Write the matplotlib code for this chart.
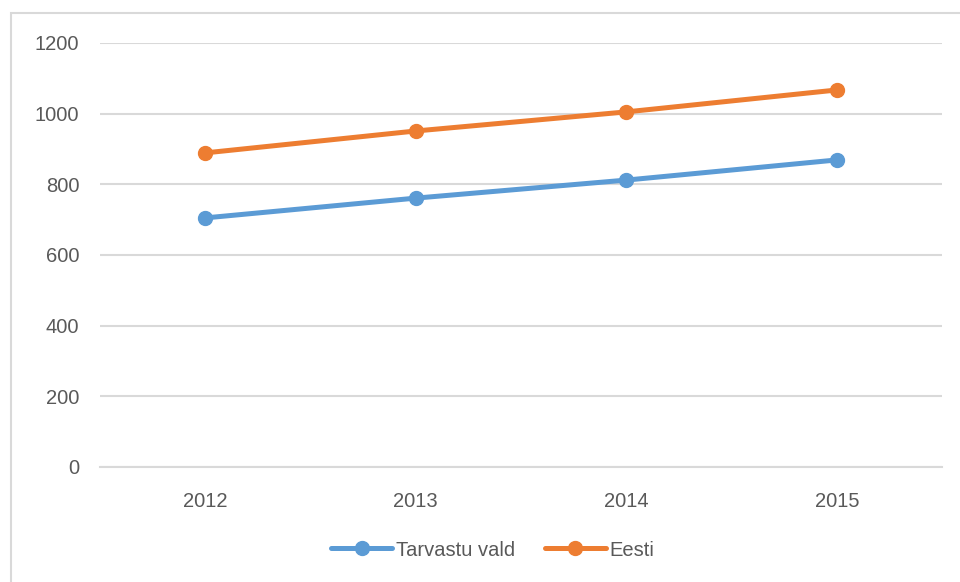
import matplotlib.pyplot as plt
from matplotlib.patches import Rectangle

# data
years = ["2012", "2013", "2014", "2015"]
tarvastu = [705, 761, 812, 869]
eesti = [889, 951, 1005, 1067]
y_ticks = [0, 200, 400, 600, 800, 1000, 1200]

plt.rcParams['font.family'] = ['Liberation Sans', 'DejaVu Sans']
text_color = '#595959'

fig = plt.figure(figsize=(9.6, 5.82), dpi=100)

# light chart border (left/top visible in reference)
fig.patches.append(Rectangle((11 / 960, -0.01), 1.0, (582 - 13) / 582 + 0.01,
                             transform=fig.transFigure, fill=False,
                             edgecolor='#D9D9D9', linewidth=1.5))

ax = fig.add_axes([100 / 960, 115 / 582, 842 / 960, 424 / 582])

x = list(range(len(years)))
ax.plot(x, tarvastu, color='#5B9BD5', linewidth=3.6, marker='o',
        markersize=10, label='Tarvastu vald', solid_capstyle='round')
ax.plot(x, eesti, color='#ED7D31', linewidth=3.6, marker='o',
        markersize=10, label='Eesti', solid_capstyle='round')

ax.set_xlim(-0.5, len(years) - 0.5)
ax.set_ylim(0, 1200)
ax.set_yticks(y_ticks)
ax.set_xticks(x)
ax.set_xticklabels(years)

ax.grid(axis='y', color='#D9D9D9', linewidth=1.5)
ax.set_axisbelow(True)
for side in ['top', 'right', 'left']:
    ax.spines[side].set_visible(False)
ax.spines['bottom'].set_color('#D9D9D9')
ax.spines['bottom'].set_linewidth(1.5)

ax.tick_params(axis='both', length=0, labelsize=14.5, colors=text_color)
ax.tick_params(axis='y', pad=15)
ax.tick_params(axis='x', pad=18)

leg = fig.legend(loc='center', bbox_to_anchor=(493 / 960, 1 - 550 / 582),
                 ncol=2, frameon=False, fontsize=14.5, handlelength=3,
                 columnspacing=1.5, handletextpad=0.2)
for t in leg.get_texts():
    t.set_color(text_color)

fig.savefig('out.png', dpi=100)
